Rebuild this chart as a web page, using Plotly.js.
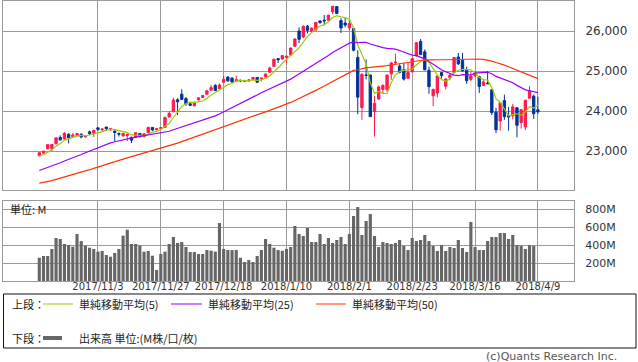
<!DOCTYPE html>
<html><head><meta charset="utf-8">
<script src="https://cdn.plot.ly/plotly-3.0.1.min.js"></script>
<style>html,body{margin:0;padding:0;background:#fff;}#chart{width:638px;height:362px;}</style>
</head><body><div id="chart"></div>
<script>
// ---------- DATA ----------
const dates = [
 '2017/10/16','2017/10/17','2017/10/18','2017/10/19','2017/10/20','2017/10/23','2017/10/24','2017/10/25','2017/10/26','2017/10/27','2017/10/30','2017/10/31',
 '2017/11/1','2017/11/2','2017/11/3','2017/11/6','2017/11/7','2017/11/8','2017/11/9','2017/11/10','2017/11/13','2017/11/14','2017/11/15','2017/11/16','2017/11/17','2017/11/20','2017/11/21','2017/11/22','2017/11/24','2017/11/27','2017/11/28','2017/11/29','2017/11/30',
 '2017/12/1','2017/12/4','2017/12/5','2017/12/6','2017/12/7','2017/12/8','2017/12/11','2017/12/12','2017/12/13','2017/12/14','2017/12/15','2017/12/18','2017/12/19','2017/12/20','2017/12/21','2017/12/22','2017/12/26','2017/12/27','2017/12/28','2017/12/29',
 '2018/1/2','2018/1/3','2018/1/4','2018/1/5','2018/1/8','2018/1/9','2018/1/10','2018/1/11','2018/1/12','2018/1/16','2018/1/17','2018/1/18','2018/1/19','2018/1/22','2018/1/23','2018/1/24','2018/1/25','2018/1/26','2018/1/29','2018/1/30','2018/1/31',
 '2018/2/1','2018/2/2','2018/2/5','2018/2/6','2018/2/7','2018/2/8','2018/2/9','2018/2/12','2018/2/13','2018/2/14','2018/2/15','2018/2/16','2018/2/20','2018/2/21','2018/2/22','2018/2/23','2018/2/26','2018/2/27','2018/2/28',
 '2018/3/1','2018/3/2','2018/3/5','2018/3/6','2018/3/7','2018/3/8','2018/3/9','2018/3/12','2018/3/13','2018/3/14','2018/3/15','2018/3/16','2018/3/19','2018/3/20','2018/3/21','2018/3/22','2018/3/23','2018/3/26','2018/3/27','2018/3/28','2018/3/29',
 '2018/4/2','2018/4/3','2018/4/4','2018/4/5','2018/4/6','2018/4/9'
];
const opens = [
 22880,22950,23060,23060,23180,23340,23300,23420,23360,23395,23420,23350,
 23480,23440,23580,23530,23600,23530,23500,23440,23380,23390,23340,23340,23440,23360,23460,23590,23530,23560,23590,23850,23980,
 24280,24420,24310,24180,24130,24280,24340,24420,24520,24640,24560,24720,24850,24820,24760,24770,24740,24750,24790,24840,
 24810,24850,24970,25115,25310,25300,25340,25400,25620,26000,25850,26120,25990,26030,26250,26270,26270,26480,26610,26260,26200,
 26080,26060,25340,24085,24900,24900,23990,24300,24540,24535,24930,25200,25125,25030,24820,24980,25380,25740,25480,
 25020,24380,24450,24960,24620,24830,24960,25350,25260,25030,24790,24880,24860,24640,24700,24530,23970,23750,24260,23890,23880,
 24080,23710,23600,24320,24370,24030
];
const highs = [
 22970,23000,23170,23170,23340,23390,23470,23440,23450,23450,23440,23400,
 23510,23530,23580,23570,23602,23570,23510,23460,23450,23440,23360,23470,23450,23450,23600,23600,23570,23600,23860,23990,24330,
 24320,24540,24350,24200,24240,24350,24390,24530,24650,24670,24690,24876,24860,24850,24880,24780,24780,24800,24840,24850,
 24830,24940,25105,25300,25320,25400,25390,25580,25810,26090,26140,26150,26090,26220,26270,26400,26410,26620,26620,26320,26340,
 26300,26070,25520,24950,25290,24910,24380,24640,24670,24925,25230,25430,25170,25180,25220,25310,25710,25800,25540,
 25110,24560,24900,24970,24810,24930,25350,25450,25450,25110,24990,24990,24880,24770,25000,24550,24080,24210,24410,24100,24180,
 24100,24050,24290,24620,24410,24360
];
const lows = [
 22870,22930,23040,22990,23170,23270,23280,23190,23340,23360,23320,23340,
 23400,23350,23500,23500,23500,23500,23250,23360,23360,23250,23200,23330,23340,23340,23450,23500,23520,23540,23580,23840,23970,
 23900,24280,24130,24120,24120,24260,24330,24410,24510,24500,24540,24710,24730,24710,24750,24720,24720,24730,24780,24700,
 24740,24840,24960,25100,25200,25290,25200,25380,25600,25700,25820,25940,25960,26000,26180,26150,26260,26420,26420,25950,26090,
 26010,25490,23920,23780,24790,23850,23360,24280,24450,24480,24780,25180,24940,24760,24800,24970,25370,25400,25020,
 24430,24120,24340,24810,24540,24780,24940,25150,24980,24680,24740,24850,24450,24630,24670,23900,23450,23510,23780,23510,23790,
 23340,23560,23520,24300,23800,23930
];
const closes = [
 22957,22997,23158,23163,23329,23274,23442,23329,23401,23434,23349,23377,
 23435,23516,23539,23548,23557,23563,23462,23422,23440,23409,23271,23458,23358,23430,23591,23526,23558,23581,23837,23941,24272,
 24232,24290,24181,24141,24211,24329,24386,24505,24585,24509,24652,24792,24755,24727,24782,24754,24746,24774,24838,24719,
 24824,24923,25075,25296,25283,25386,25369,25575,25803,25793,26116,26018,26072,26215,26211,26252,26393,26617,26439,26077,26149,
 26187,25521,24346,24913,24893,23860,24191,24601,24640,24893,25200,25219,24965,24798,24962,25310,25709,25410,25029,
 24609,24538,24875,24884,24801,24895,25336,25179,25007,24758,24874,24947,24611,24727,24682,23958,23533,24203,23858,23848,24103,
 23644,24033,24264,24505,23933,23979
];
// closes of the 49 sessions before the first shown day (needed for the moving averages)
const priorCloses = [
 22118,22085,22049,21844,21858,21994,21999,22025,21751,21675,21704,21900,21812,21783,21814,21808,21865,21892,21948,
 21988,21753,21808,21785,21798,22057,22119,22158,22203,22268,22331,22371,22413,22359,22350,22296,22284,22341,22381,22405,
 22558,22642,22662,22775,22774,22761,22831,22873,22841,22872
];
// volume, millions
const volumes = [
 259,278,278,356,478,467,411,400,381,522,444,393,370,356,326,333,289,270,311,356,
 504,570,411,411,393,326,333,281,122,300,326,411,489,422,433,378,322,322,300,300,
 344,337,326,644,356,344,344,344,259,211,233,211,278,344,467,411,370,344,337,356,
 378,611,522,500,589,433,
 433,522,411,478,422,456,489,411,522,722,822,511,667,744,500,378,433,422,411,422,
 456,389,344,478,444,456,511,444,389,333,400,333,378,367,456,367,322,656,378,344,
 344,444,489,489,533,533,467,511,400,389,356,400,389
];
const maPeriods = [5, 25, 50];
const maNames = ['単純移動平均(5)', '単純移動平均(25)', '単純移動平均(50)'];
const tickDates = ['2017/11/3','2017/11/27','2017/12/18','2018/1/10','2018/2/1','2018/2/23','2018/3/16','2018/4/9'];
const priceTicks = [23000, 24000, 25000, 26000];
const volTicks = [200, 400, 600, 800];

// ---------- BUILD ----------
const xs = dates.map((d, i) => i);
const allCloses = priorCloses.concat(closes);
const off = priorCloses.length;
function sma(n) {
  return closes.map((c, i) => {
    let s = 0;
    for (let k = off + i - n + 1; k <= off + i; k++) s += allCloses[k];
    return s / n;
  });
}
const maColors = ['#99cc00', '#9900ff', '#ff3300'];
const tickIdx = tickDates.map(d => dates.indexOf(d));

const W = 638, H = 362, ML = 3, MR = 64, MT = 1, MB = 81;
const plotW = W - ML - MR, plotH = H - MT - MB;
const px = x => (x - ML) / plotW;
const py = y => (H - MB - y) / plotH;
// bar index -> pixel: 39.3 + 4.19*i
const xRange = [(ML - 39.3) / 4.19, (ML + plotW - 39.3) / 4.19];

const traces = [];
traces.push({
  type: 'candlestick', x: xs, open: opens, high: highs, low: lows, close: closes,
  xaxis: 'x2', yaxis: 'y2', whiskerwidth: 0,
  increasing: {line: {color: '#ff1a4d', width: 1}, fillcolor: '#ff1a4d'},
  decreasing: {line: {color: '#003399', width: 1}, fillcolor: '#003399'},
  hoverinfo: 'skip', showlegend: false
});
maPeriods.forEach((n, j) => {
  traces.push({type: 'scatter', mode: 'lines', x: xs, y: sma(n), xaxis: 'x2', yaxis: 'y2',
    line: {color: maColors[j], width: 1.2}, hoverinfo: 'skip', showlegend: false});
});
traces.push({type: 'bar', x: xs, y: volumes, xaxis: 'x', yaxis: 'y',
  marker: {color: '#666666', line: {width: 0}}, hoverinfo: 'skip', showlegend: false});

const gridC = '#9a9a9a';
const tf = {family: 'DejaVu Sans, sans-serif', size: 11, color: '#333'};
const jf = {family: 'Noto Sans CJK JP, sans-serif', size: 11, color: '#222'};

const layout = {
  width: W, height: H, margin: {l: ML, r: MR, t: MT, b: MB, pad: 0},
  paper_bgcolor: '#fff', plot_bgcolor: '#fff', showlegend: false,
  bargap: 0.25, boxgap: 0.2,
  xaxis: {domain: [0, 1], anchor: 'y', range: xRange, tickmode: 'array', tickvals: tickIdx, ticktext: tickDates,
    tickangle: 0, showgrid: true, gridcolor: gridC, gridwidth: 1, zeroline: false, showline: true, mirror: true, linecolor: gridC,
    ticks: '', ticklabelstandoff: -4, tickfont: {family: 'DejaVu Sans, sans-serif', size: 10, color: '#333'},
    rangeslider: {visible: false}, fixedrange: true},
  yaxis: {domain: [0, py(201)], range: [0, 889], side: 'right', tickmode: 'array', tickvals: volTicks,
    ticktext: volTicks.map(v => v + 'M'), showgrid: true, gridcolor: gridC, zeroline: false,
    showline: true, mirror: true, linecolor: gridC, ticks: '', ticklabelstandoff: 8, tickfont: tf},
  xaxis2: {domain: [0, 1], anchor: 'y2', matches: 'x', range: xRange, tickmode: 'array', tickvals: tickIdx,
    showticklabels: false, showgrid: true, gridcolor: gridC, zeroline: false, showline: true, mirror: true,
    linecolor: gridC, ticks: '', rangeslider: {visible: false}},
  yaxis2: {domain: [py(190), 1], range: [22025, 26750], side: 'right', tickmode: 'array', tickvals: priceTicks,
    tickformat: ',d', showgrid: true, gridcolor: gridC, zeroline: false, showline: true, mirror: true,
    linecolor: gridC, ticks: '', ticklabelstandoff: 8, tickfont: {family: 'DejaVu Sans, sans-serif', size: 12, color: '#333'}},
  shapes: [
    {type: 'rect', xref: 'paper', yref: 'paper', x0: px(3.5), x1: px(636), y0: py(294), y1: py(348),
     line: {color: '#111', width: 1}, fillcolor: 'rgba(0,0,0,0)'},
    {type: 'line', xref: 'paper', yref: 'paper', x0: px(43), x1: px(73), y0: py(304), y1: py(304), line: {color: maColors[0], width: 1}},
    {type: 'line', xref: 'paper', yref: 'paper', x0: px(171), x1: px(202), y0: py(304), y1: py(304), line: {color: maColors[1], width: 1}},
    {type: 'line', xref: 'paper', yref: 'paper', x0: px(316), x1: px(346), y0: py(304), y1: py(304), line: {color: maColors[2], width: 1}},
    {type: 'line', xref: 'paper', yref: 'paper', x0: px(43), x1: px(62), y0: py(338), y1: py(338), line: {color: '#666', width: 4}}
  ],
  annotations: [
    {text: '単位: M', xref: 'paper', yref: 'paper', x: px(8), y: py(209), xanchor: 'left', yanchor: 'middle', showarrow: false, font: jf},
    {text: '上段：', xref: 'paper', yref: 'paper', x: px(10), y: py(304), xanchor: 'left', yanchor: 'middle', showarrow: false, font: jf},
    {text: maNames[0], xref: 'paper', yref: 'paper', x: px(77), y: py(304), xanchor: 'left', yanchor: 'middle', showarrow: false, font: jf},
    {text: maNames[1], xref: 'paper', yref: 'paper', x: px(206), y: py(304), xanchor: 'left', yanchor: 'middle', showarrow: false, font: jf},
    {text: maNames[2], xref: 'paper', yref: 'paper', x: px(350), y: py(304), xanchor: 'left', yanchor: 'middle', showarrow: false, font: jf},
    {text: '下段：', xref: 'paper', yref: 'paper', x: px(10), y: py(338), xanchor: 'left', yanchor: 'middle', showarrow: false, font: jf},
    {text: '出来高 単位:(M株/口/枚)', xref: 'paper', yref: 'paper', x: px(77), y: py(338), xanchor: 'left', yanchor: 'middle', showarrow: false, font: jf},
    {text: '(c)Quants Research Inc.', xref: 'paper', yref: 'paper', x: px(619), y: py(356), xanchor: 'right', yanchor: 'middle', showarrow: false,
     font: {family: 'DejaVu Sans, sans-serif', size: 11, color: '#555'}}
  ]
};
Plotly.newPlot('chart', traces, layout, {staticPlot: true, displayModeBar: false});
</script></body></html>
